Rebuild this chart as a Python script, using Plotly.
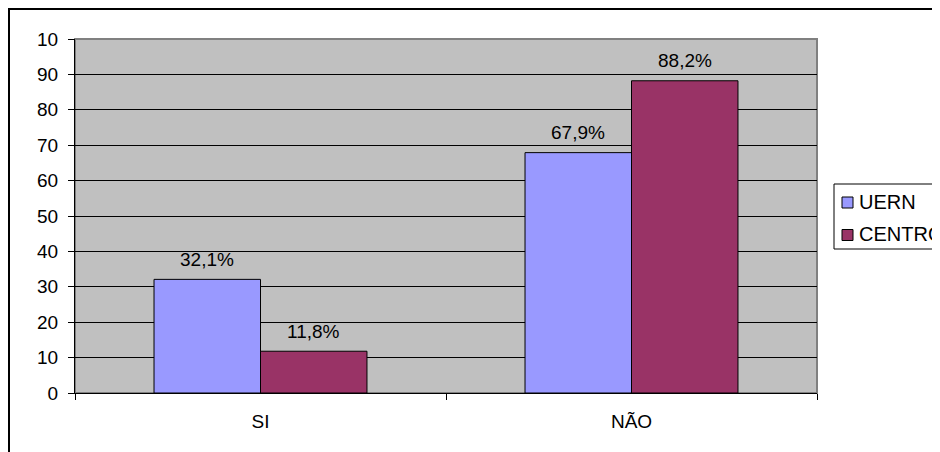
import plotly.graph_objects as go

# data
categories = ["SI", "NÃO"]
series_names = ["UERN", "CENTRO"]
uern = [32.1, 67.9]
centro = [11.8, 88.2]
colors = ["#9999FF", "#993366"]
y_ticks = [0, 10, 20, 30, 40, 50, 60, 70, 80, 90, 100]
y_tick_text = ["0", "10", "20", "30", "40", "50", "60", "70", "80", "90", "10"]

# the page body adds an 8px offset, positions below are given in page pixels
OFF = 8
W, H = 940, 452
ml, mt = 75 - OFF, 39 - OFF
pw, ph = 817 - 75, 393 - 39
mr, mb = W - ml - pw, H - mt - ph
font = "Liberation Sans, Arial, sans-serif"


def px_x(x):
    return (x - OFF - ml) / pw


def px_y(y):
    return (mt + ph - (y - OFF)) / ph


bargap = 0.426
bar_px = pw / len(categories) * (1 - bargap) / 2

fig = go.Figure()
for name, vals, col in zip(series_names, [uern, centro], colors):
    fig.add_trace(go.Bar(x=categories, y=vals, name=name, marker_color=col,
                         marker_line=dict(color="black", width=1),
                         showlegend=False))

# data labels above bars
for i, vals in enumerate([uern, centro]):
    shift = (i - 0.5) * bar_px
    for c, v in zip(categories, vals):
        fig.add_annotation(x=c, y=v, text=("%.1f%%" % v).replace(".", ","),
                           showarrow=False, xshift=shift, yshift=20,
                           yanchor="middle", font=dict(size=19, color="black"))

# legend box drawn by hand so it clips at the page edge like the reference
shapes = [
    dict(type="rect", xref="paper", yref="paper", x0=px_x(9), x1=px_x(1200),
         y0=px_y(900), y1=px_y(9), line=dict(color="black", width=2)),
    dict(type="rect", xref="paper", yref="paper", x0=0, x1=1, y0=0, y1=1,
         line=dict(color="#808080", width=2), layer="below"),
    dict(type="rect", xref="paper", yref="paper", x0=px_x(834), x1=px_x(1100),
         y0=px_y(249), y1=px_y(184), line=dict(color="black", width=1),
         fillcolor="white"),
]
for k, (name, col) in enumerate(zip(series_names, colors)):
    cy = 202.5 + k * 32.5
    shapes.append(dict(type="rect", xref="paper", yref="paper",
                       x0=px_x(842), x1=px_x(853), y0=px_y(cy + 5.5), y1=px_y(cy - 5.5),
                       fillcolor=col, line=dict(color="black", width=1)))
    fig.add_annotation(xref="paper", yref="paper", x=px_x(857), y=px_y(cy - 1),
                       text=name, showarrow=False, xanchor="left", yanchor="middle",
                       font=dict(size=20, color="black"))

fig.update_layout(
    width=W, height=H, margin=dict(l=ml, r=mr, t=mt, b=mb),
    paper_bgcolor="white", plot_bgcolor="#C0C0C0",
    barmode="group", bargap=bargap, bargroupgap=0,
    font=dict(family=font, size=19, color="black"),
    shapes=shapes,
)
fig.update_xaxes(showgrid=False, showline=True, linecolor="black", linewidth=1,
                 ticks="outside", ticklen=6, tickcolor="black", tickson="boundaries",
                 ticklabelstandoff=11, tickfont=dict(size=19))
fig.update_yaxes(range=[0, 100], tickvals=y_ticks, ticktext=y_tick_text,
                 showgrid=True, gridcolor="black", gridwidth=1,
                 showline=True, linecolor="black", linewidth=1,
                 ticks="outside", ticklen=6, tickcolor="black",
                 ticklabelstandoff=6, zeroline=False, tickfont=dict(size=19))

fig.write_html("out.html")
